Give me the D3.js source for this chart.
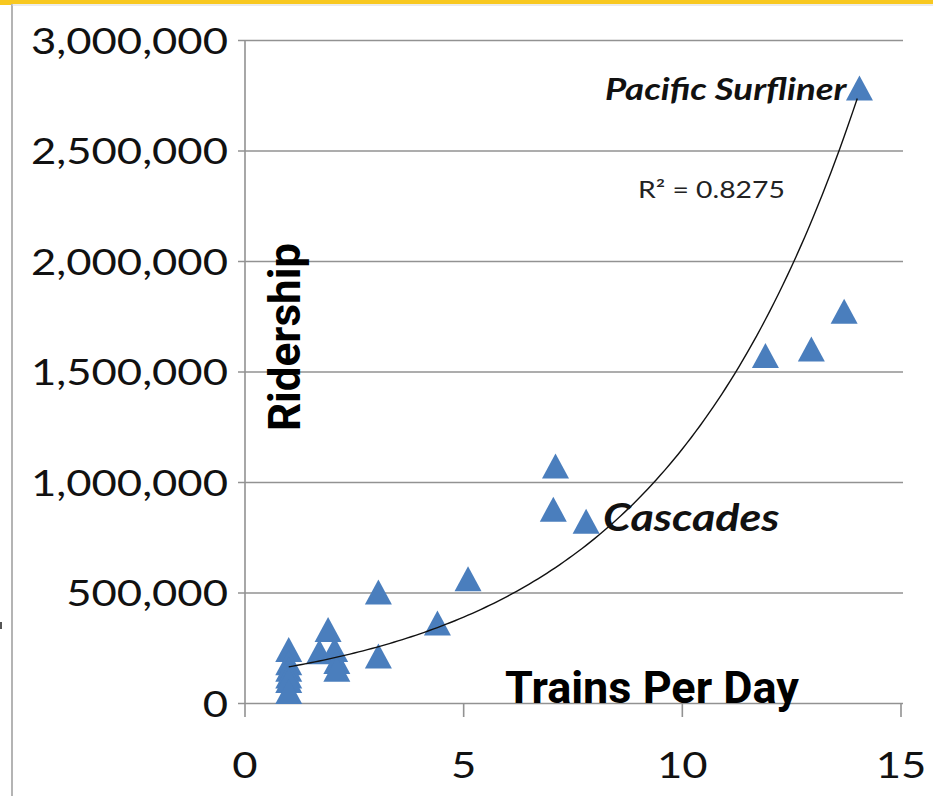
<!DOCTYPE html>
<html>
<head>
<meta charset="utf-8">
<title>Ridership vs Trains Per Day</title>
<script src="https://d3js.org/d3.v7.min.js"></script>
<style>
  body { margin: 0; background: #fff; }
  svg { display: block; }
  .tick text { font-family: Lato, "Open Sans", sans-serif; fill: #111; }
</style>
</head>
<body>
<div id="chart"></div>
<script>
// one entry per route: trains per day, annual ridership
var trainsPerDay = [1, 1, 1, 1, 1, 1, 1.7, 2.05, 1.9, 2.1, 2.1, 3.05, 3.05, 4.4, 5.1, 7.1, 7.05, 7.8, 11.9, 12.95, 13.7, 14.05];
var ridership = [240000, 180000, 150000, 120000, 100000, 50000, 230000, 240000, 330000, 185000, 150000,
                 500000, 210000, 360000, 560000, 1070000, 875000, 820000, 1570000, 1600000, 1770000, 2780000];
var xTicks = [0, 5, 10, 15];
var yTicks = [0, 500000, 1000000, 1500000, 2000000, 2500000, 3000000];
var namedRoutes = ["Pacific Surfliner", "Cascades"];
var namedX = [14.05, 7.8];
var namedY = [2780000, 820000];
var rSquared = "0.8275";

var width = 933, height = 796;
var sx = 1.18; // the source picture is stretched sideways

var svg = d3.select("#chart").append("svg")
  .attr("width", width)
  .attr("height", height);

// frame of the slide
svg.append("rect").attr("x", 0).attr("y", 0).attr("width", width).attr("height", 4).attr("fill", "#f8c820");
svg.append("rect").attr("x", 0).attr("y", 0).attr("width", 12).attr("height", 5).attr("fill", "#f8c820");
svg.append("line").attr("x1", 12).attr("x2", 12).attr("y1", 4).attr("y2", height)
  .attr("stroke", "#b4b4b4").attr("stroke-width", 2);
svg.append("line").attr("x1", 12).attr("x2", width).attr("y1", 5).attr("y2", 5)
  .attr("stroke", "#d8d8d8").attr("stroke-width", 1);
svg.append("rect").attr("x", 0).attr("y", 622).attr("width", 2).attr("height", 7).attr("fill", "#555");

var x = d3.scaleLinear().domain([0, 15]).range([245, 901]);
var y = d3.scaleLinear().domain([0, 3000000]).range([703, 40]);

// y axis with gridlines
var yAxis = svg.append("g")
  .attr("transform", "translate(" + x(0) + ",0)")
  .call(d3.axisLeft(y).tickValues(yTicks).tickFormat(d3.format(",")).tickSizeOuter(0));
yAxis.select(".domain").remove();
yAxis.selectAll(".tick line")
  .attr("x1", -7).attr("x2", x(15) - x(0) + 2)
  .attr("stroke", "#929292").attr("stroke-width", 1.6);
yAxis.selectAll(".tick text")
  .attr("x", -17 / sx).attr("dy", "0.36em")
  .attr("transform", "scale(" + sx + ",1)")
  .style("font-size", "37px");

svg.append("line")
  .attr("x1", x(0)).attr("x2", x(0)).attr("y1", y(3000000)).attr("y2", y(0))
  .attr("stroke", "#929292").attr("stroke-width", 1.6);

// x axis
var xAxis = svg.append("g")
  .attr("transform", "translate(0," + y(0) + ")")
  .call(d3.axisBottom(x).tickValues(xTicks).tickSize(14).tickSizeOuter(0));
xAxis.select(".domain").remove();
xAxis.selectAll(".tick line").attr("stroke", "#929292").attr("stroke-width", 1.6);
xAxis.selectAll(".tick text")
  .attr("y", 75).attr("dy", 0)
  .attr("transform", "scale(" + sx + ",1)")
  .style("font-size", "37px");
xAxis.selectAll(".tick")
  .attr("transform", function (d) { return "translate(" + x(d) + ",0)"; });

// markers
var tri = "M0,-13L13.5,12L-13.5,12Z";
svg.append("g").selectAll("path")
  .data(trainsPerDay)
  .enter().append("path")
  .attr("d", tri)
  .attr("transform", function (d, i) { return "translate(" + x(d) + "," + y(ridership[i]) + ")"; })
  .attr("fill", "#4a7ebd");

// exponential trendline, least squares on log(ridership)
function expFit(xs, ys) {
  var lys = ys.map(Math.log);
  var mx = d3.mean(xs), my = d3.mean(lys);
  var sxy = d3.sum(xs, function (v, i) { return (v - mx) * (lys[i] - my); });
  var sxx = d3.sum(xs, function (v) { return (v - mx) * (v - mx); });
  var b = sxy / sxx, a = Math.exp(my - b * mx);
  return function (t) { return a * Math.exp(b * t); };
}
var fit = expFit(trainsPerDay, ridership);
var xs = d3.range(d3.min(trainsPerDay), d3.max(trainsPerDay) + 0.001, 0.1);
svg.append("path")
  .datum(xs)
  .attr("d", d3.line().x(function (d) { return x(d); }).y(function (d) { return y(fit(d)); }))
  .attr("fill", "none")
  .attr("stroke", "#111")
  .attr("stroke-width", 1.4);

// annotations
function stretched(sel, px, py) {
  return sel.attr("transform", "translate(" + px + "," + py + ") scale(" + sx + ",1)");
}
stretched(svg.append("text"), x(namedX[0]) - 13, y(namedY[0]) + 11)
  .attr("text-anchor", "end")
  .style("font", "italic bold 31px Lato, sans-serif")
  .attr("fill", "#111")
  .text(namedRoutes[0]);
stretched(svg.append("text"), x(namedX[1]) + 17, y(namedY[1]) + 9)
  .style("font", "italic bold 38px Lato, sans-serif")
  .attr("fill", "#111")
  .text(namedRoutes[1]);
stretched(svg.append("text"), 638, 198)
  .style("font", "24px Lato, sans-serif")
  .attr("fill", "#222")
  .text("R\u00b2 = " + rSquared);

// axis titles
svg.append("text")
  .attr("transform", "translate(300,337) rotate(-90)")
  .attr("text-anchor", "middle")
  .style("font", "bold 44px Roboto, Arial, sans-serif")
  .text("Ridership");
svg.append("text")
  .attr("x", 505).attr("y", 703)
  .style("font", "bold 45px Roboto, Arial, sans-serif")
  .text("Trains Per Day");
</script>
</body>
</html>
